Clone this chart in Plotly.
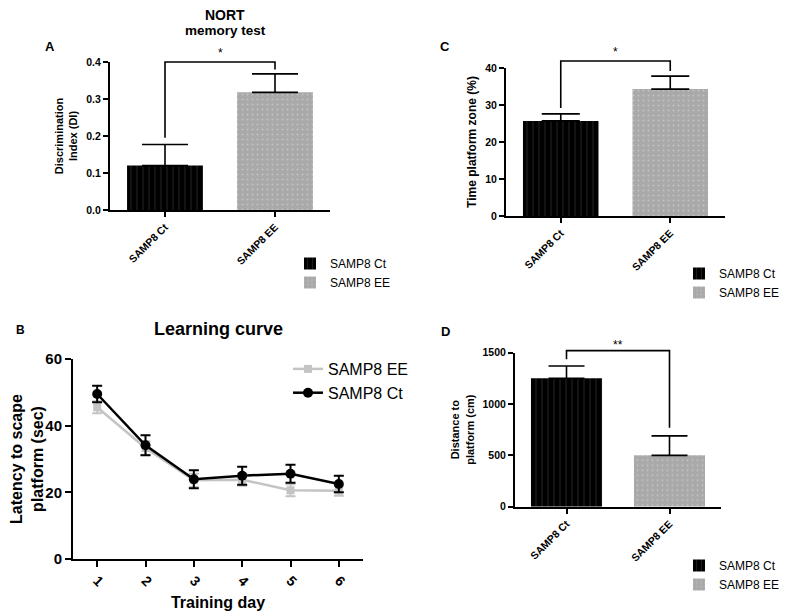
import plotly.graph_objects as go

# The page body adds an 8px margin, so the figure is drawn 8px smaller and
# all reference pixel positions are shifted by that offset.
W, H = 787, 615
OFF = 8
FW, FH = W - OFF, H - OFF

groups = ["SAMP8 Ct", "SAMP8 EE"]

# Panel A: NORT discrimination index
a_mean = [0.12, 0.318]
a_err = [0.057, 0.05]
a_ymax = 0.4
a_bracket = 0.4
a_legs = [0.195, 0.38]
a_sig = "*"

# Panel C: time in platform zone (%)
c_mean = [25.7, 34.3]
c_err = [1.9, 3.5]
c_ymax = 40
c_bracket = 41.9
c_legs = [29.2, 39.2]
c_sig = "*"

# Panel D: distance to platform (cm)
d_mean = [1250, 500]
d_err = [120, 190]
d_ymax = 1500
d_bracket = 1520
d_legs = [1436, 770]
d_sig = "**"

# Panel B: learning curve
days = [1, 2, 3, 4, 5, 6]
ct_lat = [49.5, 34.1, 23.9, 25.0, 25.6, 22.5]
ct_err = [2.5, 3.0, 2.7, 2.7, 2.7, 2.5]
ee_lat = [45.5, 33.3, 23.6, 23.8, 20.6, 20.5]
ee_err = [1.8, 2.0, 2.0, 1.8, 1.8, 1.5]

FONT = "Liberation Sans, Arial, sans-serif"
BLACK = "#000000"
GREY = "#a9a9a9"
LGREY = "#c4c4c4"

def fx(px):
    return (px - OFF) / FW

def fy(py):
    return 1 - (py - OFF) / FH

def px_x(a, b):
    return [fx(a), fx(b)]

def px_y(top, bottom):
    return [fy(bottom), fy(top)]

fig = go.Figure()

bar_panels = [
    ("x", "y", a_mean, a_err, "legend", 23),
    ("x2", "y2", c_mean, c_err, "legend2", 19),
    ("x3", "y3", d_mean, d_err, "legend3", 18),
]
styles = [
    dict(color=BLACK, pattern=dict(shape="|", fgcolor="#6a6a6a", bgcolor=BLACK, size=6, solidity=0.12)),
    dict(color=GREY, pattern=dict(shape=".", fgcolor="#dcdcdc", bgcolor=GREY, size=5, solidity=0.12)),
]
for xa, ya, means, errs, leg, capw in bar_panels:
    for i, g in enumerate(groups):
        fig.add_trace(go.Bar(
            x=[g], y=[means[i]], name=g, xaxis=xa, yaxis=ya, legend=leg,
            marker=dict(color=styles[i]["color"], pattern=styles[i]["pattern"], line=dict(width=0)),
            width=0.69,
            error_y=dict(type="data", symmetric=False, array=[errs[i]], arrayminus=[0],
                         color=BLACK, thickness=1.6, width=capw),
            showlegend=True,
        ))

# Panel B lines
fig.add_trace(go.Scatter(
    x=days, y=ee_lat, name="SAMP8 EE", xaxis="x4", yaxis="y4", legend="legend4",
    mode="lines+markers", line=dict(color=LGREY, width=2.5),
    marker=dict(symbol="square", size=8, color=LGREY),
    error_y=dict(type="data", array=ee_err, color=LGREY, thickness=2, width=5),
))
fig.add_trace(go.Scatter(
    x=days, y=ct_lat, name="SAMP8 Ct", xaxis="x4", yaxis="y4", legend="legend4",
    mode="lines+markers", line=dict(color=BLACK, width=2.5),
    marker=dict(symbol="circle", size=10, color=BLACK),
    error_y=dict(type="data", array=ct_err, color=BLACK, thickness=2, width=5),
))

axis_common = dict(showline=True, linecolor=BLACK, linewidth=2, ticks="outside",
                   tickcolor=BLACK, tickwidth=2, ticklen=5, showgrid=False, zeroline=False,
                   mirror=False)

small_tick = dict(family=FONT, size=10.5, color=BLACK, weight="bold")

fig.update_layout(
    width=FW, height=FH, margin=dict(l=0, r=0, t=0, b=0, autoexpand=False),
    paper_bgcolor="white", plot_bgcolor="white",
    font=dict(family=FONT, color=BLACK),
    xaxis=dict(axis_common, domain=px_x(110, 330), anchor="y", range=[-0.5, 1.5],
               tickangle=-45, tickfont=small_tick, type="category"),
    yaxis=dict(axis_common, domain=px_y(62, 210), anchor="x", range=[0, a_ymax],
               dtick=0.1, tickformat=".1f", tickfont=small_tick,
               title=dict(text="Discrimination<br>Index (DI)", font=dict(family=FONT, size=11, weight="bold"), standoff=6)),
    xaxis2=dict(axis_common, domain=px_x(506, 725), anchor="y2", range=[-0.5, 1.5],
                tickangle=-45, tickfont=small_tick, type="category"),
    yaxis2=dict(axis_common, domain=px_y(68, 216), anchor="x2", range=[0, c_ymax],
                dtick=10, tickfont=small_tick,
                title=dict(text="Time platform zone (%)", font=dict(family=FONT, size=12, weight="bold"), standoff=6)),
    xaxis3=dict(axis_common, domain=px_x(515, 721), anchor="y3", range=[-0.5, 1.5],
                tickangle=-45, tickfont=small_tick, type="category"),
    yaxis3=dict(axis_common, domain=px_y(352.7, 506.7), anchor="x3", range=[0, d_ymax],
                dtick=500, tickfont=small_tick,
                title=dict(text="Distance to<br>platform (cm)", font=dict(family=FONT, size=11, weight="bold"), standoff=6)),
    xaxis4=dict(axis_common, domain=px_x(73, 363), anchor="y4", range=[0.5, 6.5],
                tickvals=days, tickangle=45, ticklen=6,
                tickfont=dict(family=FONT, size=14, color=BLACK, weight="bold"),
                title=dict(text="Training day", font=dict(family=FONT, size=16, weight="bold"), standoff=8)),
    yaxis4=dict(axis_common, domain=px_y(359, 559), anchor="x4", range=[0, 60],
                dtick=20, ticklen=6,
                tickfont=dict(family=FONT, size=15, color=BLACK, weight="bold"),
                title=dict(text="Latency to scape<br>platform (sec)", font=dict(family=FONT, size=16, weight="bold"), standoff=10)),
    legend=dict(x=fx(290), y=fy(249), xanchor="left", yanchor="top",
                font=dict(family=FONT, size=12), bgcolor="rgba(0,0,0,0)"),
    legend2=dict(x=fx(679), y=fy(259), xanchor="left", yanchor="top",
                 font=dict(family=FONT, size=12), bgcolor="rgba(0,0,0,0)"),
    legend3=dict(x=fx(679), y=fy(551), xanchor="left", yanchor="top",
                 font=dict(family=FONT, size=12), bgcolor="rgba(0,0,0,0)"),
    legend4=dict(x=fx(288), y=fy(352), xanchor="left", yanchor="top",
                 font=dict(family=FONT, size=16), bgcolor="rgba(0,0,0,0)"),
)

# significance brackets (x in category-domain units, y scaled to the axis domain)
brackets = [("x", "y", a_bracket, a_legs, a_sig, a_ymax, 0), ("x2", "y2", c_bracket, c_legs, c_sig, c_ymax, 0),
            ("x3", "y3", d_bracket, d_legs, d_sig, d_ymax, -3)]
for xa, ya, top, legs, sig, ymax, ys in brackets:
    xr = xa + " domain"
    yr = ya + " domain"
    pos = [(i + 0.5) / len(groups) for i in range(len(groups))]
    t = top / ymax
    l0, l1 = legs[0] / ymax, legs[1] / ymax
    path = f"M {pos[0]} {l0} L {pos[0]} {t} L {pos[1]} {t} L {pos[1]} {l1}"
    fig.add_shape(type="path", path=path, xref=xr, yref=yr, line=dict(color=BLACK, width=1.6))
    fig.add_annotation(x=0.5, y=t, xref=xr, yref=yr, text=sig, showarrow=False,
                       yanchor="bottom", yshift=ys, font=dict(family=FONT, size=12, color=BLACK))

# texts
texts = [
    ("NORT", 225, 15, 14, "bold"),
    ("memory test", 225, 30, 13.5, "bold"),
    ("A", 50, 46, 13, "bold"),
    ("C", 445, 46, 13, "bold"),
    ("B", 20, 330, 12, "bold"),
    ("D", 445, 331, 13, "bold"),
    ("Learning curve", 218, 329, 18, "bold"),
]
for t, x, y, s, wgt in texts:
    fig.add_annotation(x=fx(x), y=fy(y), xref="paper", yref="paper", text=t, showarrow=False,
                       xanchor="center", yanchor="middle",
                       font=dict(family=FONT, size=s, color=BLACK, weight=wgt))

fig.write_html("out.html")
